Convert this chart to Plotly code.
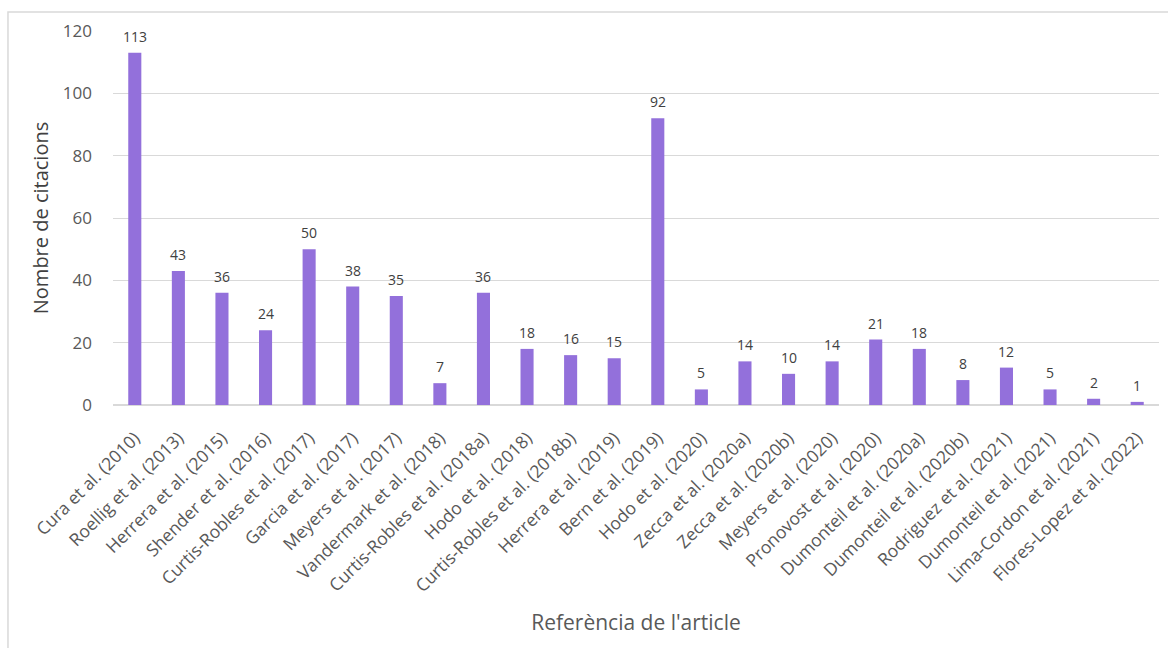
import plotly.graph_objects as go

references = [
    "Cura et al. (2010)", "Roellig et al. (2013)", "Herrera et al. (2015)",
    "Shender et al. (2016)", "Curtis-Robles et al. (2017)", "Garcia et al. (2017)",
    "Meyers et al. (2017)", "Vandermark et al. (2018)", "Curtis-Robles et al. (2018a)",
    "Hodo et al. (2018)", "Curtis-Robles et al. (2018b)", "Herrera et al. (2019)",
    "Bern et al. (2019)", "Hodo et al. (2020)", "Zecca et al. (2020a)",
    "Zecca et al. (2020b)", "Meyers et al. (2020)", "Pronovost et al. (2020)",
    "Dumonteil et al. (2020a)", "Dumonteil et al. (2020b)", "Rodriguez et al. (2021)",
    "Dumonteil et al. (2021)", "Lima-Cordon et al. (2021)", "Flores-Lopez et al. (2022)",
]
citations = [113, 43, 36, 24, 50, 38, 35, 7, 36, 18, 16, 15, 92, 5, 14, 10, 14, 21, 18, 8, 12, 5, 2, 1]
y_ticks = [0, 20, 40, 60, 80, 100, 120]

FONT = "Open Sans"

fig = go.Figure(
    go.Bar(
        x=references,
        y=citations,
        marker=dict(color="#9370DB", line=dict(width=0)),
        width=0.3,
    )
)

# value labels above each bar
for ref, val in zip(references, citations):
    fig.add_annotation(
        x=ref, y=val, text=str(val),
        showarrow=False, yanchor="bottom", yshift=5,
        font=dict(family=FONT, size=14, color="#404040"),
    )

fig.update_layout(
    width=1168,
    height=648,
    margin=dict(l=113, r=9, t=31, b=243),
    plot_bgcolor="white",
    paper_bgcolor="white",
    showlegend=False,
    font=dict(family=FONT, color="#595959"),
    xaxis=dict(
        tickangle=-45,
        tickfont=dict(family=FONT, size=17.5, color="#595959"),
        showgrid=False,
        showline=True,
        linecolor="#d9d9d9",
        linewidth=1,
        ticks="",
        automargin=False,
        ticklabelstandoff=15,
        title=dict(text="Referència de l'article", font=dict(family=FONT, size=21, color="#595959"), standoff=19),
    ),
    yaxis=dict(
        range=[0, 120],
        tickvals=y_ticks,
        tickfont=dict(family=FONT, size=17, color="#595959"),
        showgrid=True,
        gridcolor="#d9d9d9",
        gridwidth=1,
        zeroline=True,
        zerolinecolor="#d9d9d9",
        ticks="",
        automargin=False,
        ticklabelstandoff=20,
        title=dict(text="Nombre de citacions", font=dict(family=FONT, size=20, color="#404040"), standoff=8),
    ),
    shapes=[
        dict(
            type="rect", xref="paper", yref="paper",
            x0=-0.1004, x1=1.02, y0=-0.7, y1=1.0509,
            line=dict(color="#d9d9d9", width=1.5),
            fillcolor="rgba(0,0,0,0)", layer="below",
        )
    ],
)

fig.write_html("out.html")
